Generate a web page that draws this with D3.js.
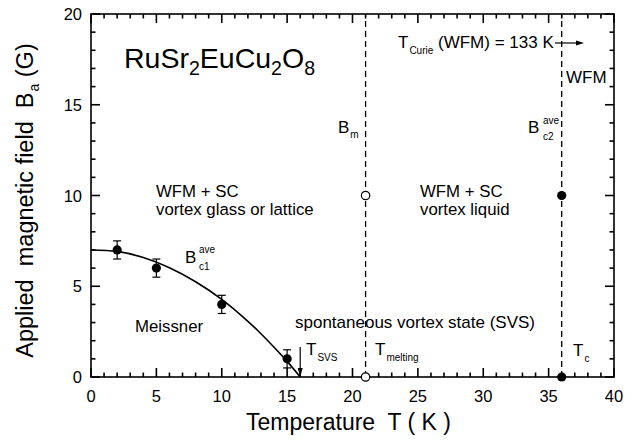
<!DOCTYPE html>
<html><head><meta charset="utf-8">
<script src="https://cdn.jsdelivr.net/npm/d3@7"></script>
<style>
body{margin:0;background:#fff;}
svg{font-family:"Liberation Sans",Arial,Helvetica,sans-serif;}
text{white-space:pre;}
</style></head>
<body><svg id="c" width="642" height="444"></svg>
<script>
// ---- data ----
const bc1T = [2, 5, 10, 15];
const bc1B = [7, 6, 4, 1];
const bc1Err = [0.5, 0.5, 0.5, 0.5];
const fitT = [0, 2, 4, 6, 8, 10, 12, 13, 14, 15, 16];
const fitB = [7.0, 6.92, 6.58, 6.02, 5.25, 4.28, 3.07, 2.38, 1.64, 0.86, 0];
const meltT = [21, 21];
const meltB = [10, 0];
const tcT = [36, 36];
const tcB = [10, 0];
const dashedT = [21, 36];
const xTicks = [0, 5, 10, 15, 20, 25, 30, 35, 40];
const yTicks = [0, 5, 10, 15, 20];
const xMinor = [1,2,3,4,6,7,8,9,11,12,13,14,16,17,18,19,21,22,23,24,26,27,28,29,31,32,33,34,36,37,38,39];
const yMinor = [1,2,3,4,6,7,8,9,11,12,13,14,16,17,18,19];

const svg = d3.select("#c");
const L = 91, R = 614, T = 14, B = 377;
const x = d3.scaleLinear().domain([0, 40]).range([L, R]);
const y = d3.scaleLinear().domain([0, 20]).range([B, T]);

// frame
svg.append("rect").attr("x", L).attr("y", T).attr("width", R - L).attr("height", B - T)
  .attr("fill", "none").attr("stroke", "#000").attr("stroke-width", 1.6);

const tk = svg.append("g").attr("stroke", "#000").attr("stroke-width", 1.6);
function xt(vals, len) {
  vals.forEach(v => {
    tk.append("line").attr("x1", x(v)).attr("x2", x(v)).attr("y1", B).attr("y2", B - len);
    tk.append("line").attr("x1", x(v)).attr("x2", x(v)).attr("y1", T).attr("y2", T + len);
  });
}
function yt(vals, len) {
  vals.forEach(v => {
    tk.append("line").attr("y1", y(v)).attr("y2", y(v)).attr("x1", L).attr("x2", L + len);
    tk.append("line").attr("y1", y(v)).attr("y2", y(v)).attr("x1", R).attr("x2", R - len);
  });
}
xt(xMinor, 4.5); xt(xTicks, 9); yt(yMinor, 4.5); yt(yTicks, 9);

svg.selectAll(".xl").data(xTicks).enter().append("text")
  .attr("x", d => x(d)).attr("y", 402).attr("text-anchor", "middle").attr("font-size", 16.5).text(d => d);
svg.selectAll(".yl").data(yTicks).enter().append("text")
  .attr("x", 82).attr("y", d => y(d) + 6).attr("text-anchor", "end").attr("font-size", 16.5).text(d => d);

// dashed vertical lines
svg.selectAll(".dash").data(dashedT).enter().append("line")
  .attr("x1", d => x(d)).attr("x2", d => x(d)).attr("y1", y(0)).attr("y2", y(20))
  .attr("stroke", "#000").attr("stroke-width", 1.3).attr("stroke-dasharray", "6,4");

// fit curve
const fitData = fitT.map((t, i) => [t, fitB[i]]);
svg.append("path").datum(fitData)
  .attr("d", d3.line().x(d => x(d[0])).y(d => y(d[1])).curve(d3.curveCatmullRom))
  .attr("fill", "none").attr("stroke", "#000").attr("stroke-width", 1.6);

// error bars + points
const pts = bc1T.map((t, i) => ({t, b: bc1B[i], e: bc1Err[i]}));
const eb = svg.append("g").attr("stroke", "#000").attr("stroke-width", 1.2);
pts.forEach(p => {
  eb.append("line").attr("x1", x(p.t)).attr("x2", x(p.t)).attr("y1", y(p.b - p.e)).attr("y2", y(p.b + p.e));
  [p.b - p.e, p.b + p.e].forEach(v => eb.append("line").attr("x1", x(p.t) - 4).attr("x2", x(p.t) + 4).attr("y1", y(v)).attr("y2", y(v)));
});
svg.selectAll(".pt").data(pts).enter().append("circle")
  .attr("cx", d => x(d.t)).attr("cy", d => y(d.b)).attr("r", 4.6).attr("fill", "#000");

svg.selectAll(".melt").data(meltT.map((t, i) => [t, meltB[i]])).enter().append("circle")
  .attr("cx", d => x(d[0])).attr("cy", d => y(d[1])).attr("r", 4.2)
  .attr("fill", "#fff").attr("stroke", "#000").attr("stroke-width", 1.2);
svg.selectAll(".tc").data(tcT.map((t, i) => [t, tcB[i]])).enter().append("circle")
  .attr("cx", d => x(d[0])).attr("cy", d => y(d[1])).attr("r", 4.6).attr("fill", "#000");

// T_SVS arrow
const ax = x(16);
svg.append("line").attr("x1", ax).attr("x2", ax).attr("y1", 347).attr("y2", y(0) - 2)
  .attr("stroke", "#000").attr("stroke-width", 1.2);
svg.append("path").attr("d", `M${ax - 2.5},${y(0) - 9} L${ax + 2.5},${y(0) - 9} L${ax},${y(0)} Z`).attr("fill", "#000");

// T_Curie arrow
svg.append("line").attr("x1", 555).attr("x2", 578).attr("y1", 43).attr("y2", 43).attr("stroke", "#000").attr("stroke-width", 1.2);
svg.append("path").attr("d", "M576,40.5 L576,45.5 L584,43 Z").attr("fill", "#000");

function rich(xp, yp, parts, anchor) {
  const t = svg.append("text").attr("x", xp).attr("y", yp).attr("fill", "#000");
  if (anchor) t.attr("text-anchor", anchor);
  let prev = 0;
  parts.forEach(p => {
    const s = t.append("tspan").text(p[0]).attr("font-size", p[1]);
    const d = (p[2] || 0) - prev;
    if (d) s.attr("dy", d);
    if (p[3] !== undefined) s.attr("dx", p[3]);
    prev = p[2] || 0;
  });
  return t;
}

rich(124, 68, [["RuSr", 28.5], ["2", 19.5, 7], ["EuCu", 28.5, 0], ["2", 19.5, 7], ["O", 28.5, 0], ["8", 19.5, 7]]);
rich(156, 197, [["WFM + SC", 16.8]]);
rich(156, 215, [["vortex glass or lattice", 16.8]]);
rich(420, 197, [["WFM + SC", 16.8]]);
rich(420, 215, [["vortex liquid", 16.8]]);
rich(135, 332, [["Meissner", 16.8]]);
rich(295, 328, [["spontaneous vortex state (SVS)", 17]]);

rich(338, 133, [["B", 17], ["m", 10, 5, 1]]);
rich(528, 133, [["B", 17]]);
rich(543, 124, [["ave", 10]]);
rich(543, 140, [["c2", 10]]);
rich(185, 263, [["B", 17]]);
rich(199, 253, [["ave", 10]]);
rich(199, 270, [["c1", 10]]);
rich(398, 48, [["T", 17], ["Curie", 10, 6, 1], [" (WFM) = 133 K", 17, 0]]);
rich(566, 83, [["WFM", 17]]);
rich(306, 355, [["T", 17], ["SVS", 10, 6, 1]]);
rich(375, 355, [["T", 17], ["melting", 10, 6, 1]]);
rich(573, 356, [["T", 17], ["c", 10, 6, 1]]);

rich((242 + 455) / 2, 430, [["Temperature  T ( K )", 23]], "middle");
const ytl = rich(0, 0, [["Applied  magnetic field  B", 23.5], ["a", 14, 6, 1], [" (G)", 23.5, 0]], "middle");
ytl.attr("transform", `translate(33,${(33 + 368) / 2}) rotate(-90)`);
</script></body></html>
